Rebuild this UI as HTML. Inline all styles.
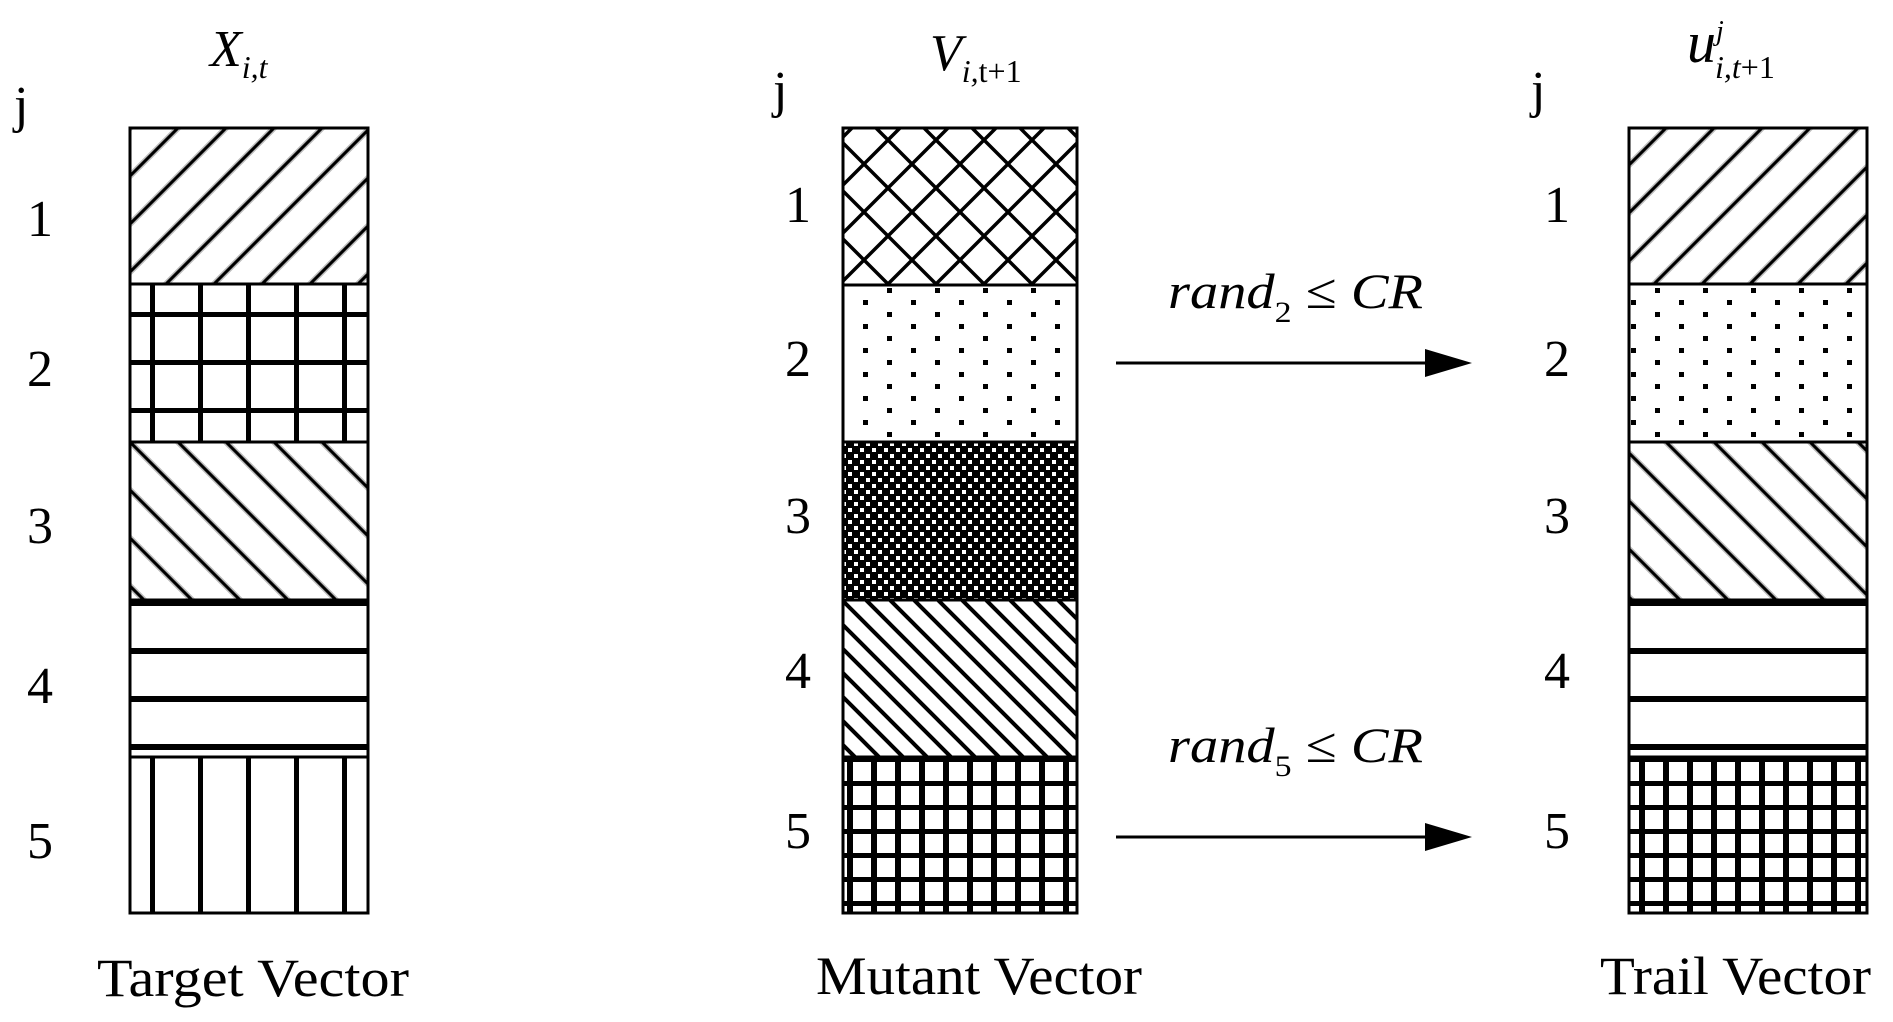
<!DOCTYPE html>
<html><head><meta charset="utf-8"><style>html,body{margin:0;padding:0;background:#fff}svg{display:block}</style></head>
<body>
<svg width="1893" height="1022" viewBox="0 0 1893 1022" xmlns="http://www.w3.org/2000/svg" font-family="Liberation Serif, serif">
<defs>
<pattern id="fwd" patternUnits="userSpaceOnUse" width="48" height="48" x="130" y="128">
<rect width="48" height="48" fill="#fff"/>
<path d="M-12 12 L12 -12 M0 48 L48 0 M36 60 L60 36" stroke="#bbb" stroke-width="6"/>
<path d="M-12 12 L12 -12 M0 48 L48 0 M36 60 L60 36" stroke="#000" stroke-width="3"/>
</pattern>
<pattern id="bwd" patternUnits="userSpaceOnUse" width="48" height="48" x="130" y="442">
<rect width="48" height="48" fill="#fff"/>
<path d="M-12 36 L12 60 M0 0 L48 48 M36 -12 L60 12" stroke="#bbb" stroke-width="6"/>
<path d="M-12 36 L12 60 M0 0 L48 48 M36 -12 L60 12" stroke="#000" stroke-width="3"/>
</pattern>
<pattern id="grid1" patternUnits="userSpaceOnUse" width="48" height="48" x="128" y="290">
<rect width="48" height="48" fill="#fff"/>
<rect x="22" y="0" width="5" height="48" fill="#000"/>
<rect x="0" y="22" width="48" height="5" fill="#000"/>
</pattern>
<pattern id="vert" patternUnits="userSpaceOnUse" width="48" height="48" x="128" y="0">
<rect width="48" height="48" fill="#fff"/>
<rect x="22" y="0" width="5" height="48" fill="#000"/>
</pattern>
<pattern id="diam" patternUnits="userSpaceOnUse" width="48" height="48" x="864" y="116">
<rect width="48" height="48" fill="#fff"/>
<path d="M0 0 L48 48 M48 0 L0 48 M-24 24 L0 48 M24 -24 L72 24 M-24 24 L24 -24 M24 72 L72 24" stroke="#000" stroke-width="3.5"/>
</pattern>
<pattern id="dots" patternUnits="userSpaceOnUse" width="48" height="24" x="865" y="288">
<rect width="48" height="24" fill="#fff"/>
<rect x="22" y="0" width="5" height="5" fill="#000"/>
<rect x="-2" y="12" width="5" height="5" fill="#000"/>
<rect x="46" y="12" width="5" height="5" fill="#000"/>
</pattern>
<pattern id="dense" patternUnits="userSpaceOnUse" width="12" height="12" x="842" y="442">
<rect width="12" height="12" fill="#000"/>
<rect x="0" y="0" width="4" height="4" fill="#fff"/>
<rect x="6" y="6" width="4" height="4" fill="#fff"/>
</pattern>
<pattern id="bwd2" patternUnits="userSpaceOnUse" width="24" height="24" x="842" y="600">
<rect width="24" height="24" fill="#fff"/>
<path d="M-6 18 L6 30 M0 0 L24 24 M18 -6 L30 6" stroke="#000" stroke-width="4"/>
</pattern>
<pattern id="grid2" patternUnits="userSpaceOnUse" width="24" height="24" x="847" y="757">
<rect width="24" height="24" fill="#fff"/>
<rect x="0" y="0" width="6" height="24" fill="#000"/>
<rect x="0" y="0" width="24" height="5" fill="#000"/>
</pattern>
</defs>

<g stroke="#000" stroke-width="3">
<rect x="130" y="128" width="238" height="156" fill="url(#fwd)"/>
<rect x="130" y="284" width="238" height="158" fill="url(#grid1)"/>
<rect x="130" y="442" width="238" height="158" fill="url(#bwd)"/>
<rect x="130" y="600" width="238" height="157" fill="#fff"/>
<rect x="130" y="757" width="238" height="156" fill="url(#vert)"/>
</g>
<g fill="#000">
<rect x="130" y="599" width="238" height="7"/>
<rect x="130" y="648" width="238" height="6"/>
<rect x="130" y="696" width="238" height="6"/>
<rect x="130" y="744" width="238" height="6"/>
</g>

<g stroke="#000" stroke-width="3">
<rect x="843" y="128" width="234" height="157" fill="url(#diam)"/>
<rect x="843" y="285" width="234" height="157" fill="url(#dots)"/>
<rect x="843" y="442" width="234" height="158" fill="url(#dense)"/>
<rect x="843" y="600" width="234" height="157" fill="url(#bwd2)"/>
<rect x="843" y="757" width="234" height="156" fill="url(#grid2)"/>
</g>

<g stroke="#000" stroke-width="3">
<rect x="1629" y="128" width="238" height="156" fill="url(#fwd)"/>
<rect x="1629" y="284" width="238" height="158" fill="url(#dots)"/>
<rect x="1629" y="442" width="238" height="158" fill="url(#bwd)"/>
<rect x="1629" y="600" width="238" height="157" fill="#fff"/>
<rect x="1629" y="757" width="238" height="156" fill="url(#grid2)"/>
</g>
<g fill="#000">
<rect x="1629" y="599" width="238" height="7"/>
<rect x="1629" y="648" width="238" height="6"/>
<rect x="1629" y="696" width="238" height="6"/>
<rect x="1629" y="744" width="238" height="6"/>
</g>

<line x1="1116" y1="363" x2="1430" y2="363" stroke="#000" stroke-width="3"/>
<polygon points="1425,349 1472,363 1425,377" fill="#000"/>
<line x1="1116" y1="837" x2="1430" y2="837" stroke="#000" stroke-width="3"/>
<polygon points="1425,823 1472,837 1425,851" fill="#000"/>

<g font-size="50" font-style="italic" fill="#000">
<text x="1168" y="308" textLength="255" lengthAdjust="spacingAndGlyphs">rand<tspan font-size="30" font-style="normal" dy="14">2</tspan><tspan dy="-14" font-style="normal"> ≤ </tspan>CR</text>
<text x="1168" y="762" textLength="255" lengthAdjust="spacingAndGlyphs">rand<tspan font-size="30" font-style="normal" dy="14">5</tspan><tspan dy="-14" font-style="normal"> ≤ </tspan>CR</text>
</g>

<text x="210" y="66" font-size="52" font-style="italic">X<tspan font-size="32" dy="12">i,t</tspan></text>
<text x="930" y="70" font-size="52" font-style="italic">V<tspan font-size="32" dy="12">i,</tspan><tspan font-size="32" font-style="normal">t+1</tspan></text>
<text x="1687" y="62" font-size="58" font-style="italic">u<tspan font-size="28" dy="-22">j</tspan><tspan font-size="32" x="1715" dy="38">i,t</tspan><tspan font-size="32" font-style="normal">+1</tspan></text>

<g font-size="52" fill="#000">
<text x="14" y="122">j</text>
<text x="27" y="236">1</text>
<text x="27" y="386">2</text>
<text x="27" y="543">3</text>
<text x="27" y="703">4</text>
<text x="27" y="858">5</text>
<text x="773" y="107">j</text>
<text x="785" y="222">1</text>
<text x="785" y="376">2</text>
<text x="785" y="533">3</text>
<text x="785" y="688">4</text>
<text x="785" y="848">5</text>
<text x="1531" y="107">j</text>
<text x="1544" y="222">1</text>
<text x="1544" y="376">2</text>
<text x="1544" y="533">3</text>
<text x="1544" y="688">4</text>
<text x="1544" y="848">5</text>
</g>

<g font-size="54">
<text x="97" y="996" textLength="312" lengthAdjust="spacingAndGlyphs">Target Vector</text>
<text x="816" y="994" textLength="326" lengthAdjust="spacingAndGlyphs">Mutant Vector</text>
<text x="1600" y="994" textLength="271" lengthAdjust="spacingAndGlyphs">Trail Vector</text>
</g>
</svg>
</body></html>
